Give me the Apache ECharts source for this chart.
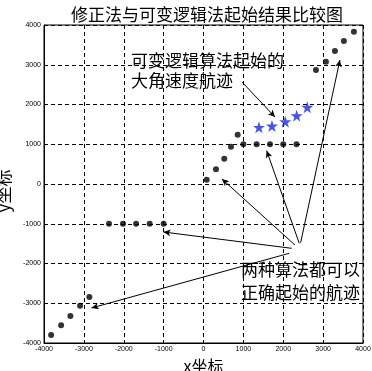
<!DOCTYPE html>
<html>
<head>
<meta charset="utf-8">
<script src="https://cdn.jsdelivr.net/npm/echarts@6/dist/echarts.min.js"></script>
<style>html,body{margin:0;padding:0;background:#fff}#c{width:372px;height:371px}</style>
</head>
<body>
<div id="c"></div>
<script>
// ---- data ----
const titleText = '修正法与可变逻辑法起始结果比较图';
const xName = 'x坐标';
const yName = 'y坐标';
const axisMin = -4000, axisMax = 4000, axisStep = 1000;

// tracks started correctly by both algorithms (black dots)
const diagX = [80, 313, 521, 689, 857];
const diagY = [110, 370, 636, 938, 1240];
const rightLevelX = [1000, 1333, 1667, 2000, 2333];
const rightLevelY = [1000, 1000, 1000, 1000, 1000];
const leftLevelX = [-2370, -2020, -1690, -1350, -1000];
const leftLevelY = [-1000, -1000, -1000, -1000, -1000];
const upperRightX = [2820, 3070, 3296, 3521, 3772];
const upperRightY = [2868, 3077, 3346, 3597, 3831];
const lowerLeftX = [-3822, -3571, -3338, -3095, -2862];
const lowerLeftY = [-3799, -3555, -3321, -3062, -2843];

// large angular-velocity track started by the variable-logic algorithm (blue stars)
const starX = [1391, 1717, 2050, 2336, 2602];
const starY = [1426, 1459, 1567, 1718, 1930];

// annotation texts
const noteTop = ['可变逻辑算法起始的', '大角速度航迹'];
const noteBottom = ['两种算法都可以', '正确起始的航迹'];

// annotation arrows [fromX, fromY, toX, toY] in data units
const arrowTop = [[965, 2566, 1792, 1686]];
const arrowsBottom = [
  [2293, -1535, 464, 126],
  [2401, -1492, 1584, 838],
  [2436, -1477, 3421, 3119],
  [2211, -1618, -1003, -1208],
  [2150, -1743, -2807, -3119]
];

// ---- build ----
function zip(xs, ys) { return xs.map((x, i) => [x, ys[i]]); }
const dots = [].concat(
  zip(diagX, diagY), zip(rightLevelX, rightLevelY), zip(leftLevelX, leftLevelY),
  zip(upperRightX, upperRightY), zip(lowerLeftX, lowerLeftY)
);
const stars = zip(starX, starY);
const arrows = arrowTop.concat(arrowsBottom).map(a => [{coord: [a[0], a[1]]}, {coord: [a[2], a[3]]}]);

const cjk = '"Noto Sans CJK SC", sans-serif';
const tickFont = '"Liberation Sans Narrow", "Liberation Sans", sans-serif';

const gridLine = {show: true, lineStyle: {color: '#000', type: [4, 3], width: 1}};
const tickLabel = {fontFamily: tickFont, fontSize: 7, color: '#000', margin: 3, formatter: v => String(v)};

const chart = echarts.init(document.getElementById('c'), null, {renderer: 'canvas'});
chart.setOption({
  animation: false,
  backgroundColor: '#fff',
  title: {
    text: titleText, left: 66, top: 1,
    textStyle: {fontFamily: cjk, fontSize: 17, fontWeight: 'normal', color: '#000'}
  },
  grid: {left: 44, right: 9, top: 25, bottom: 28, containLabel: false, outerBoundsMode: 'none',
    show: true, borderColor: '#000', borderWidth: 1, backgroundColor: 'transparent'},
  xAxis: {
    type: 'value', min: axisMin, max: axisMax, interval: axisStep,
    name: xName, nameLocation: 'middle', nameGap: 9,
    nameTextStyle: {fontFamily: cjk, fontSize: 16, color: '#000'},
    axisLine: {show: true, onZero: false, lineStyle: {color: '#000', width: 1}},
    axisTick: {show: false},
    axisLabel: tickLabel,
    splitLine: gridLine
  },
  yAxis: {
    type: 'value', min: axisMin, max: axisMax, interval: axisStep,
    name: yName, nameLocation: 'middle', nameGap: 25, nameRotate: 90,
    nameTextStyle: {fontFamily: cjk, fontSize: 17, color: '#000', padding: [0, 14, 0, 0]},
    axisLine: {show: true, onZero: false, lineStyle: {color: '#000', width: 1}},
    axisTick: {show: false},
    axisLabel: tickLabel,
    splitLine: gridLine
  },
  series: [
    {
      type: 'scatter', data: dots, symbol: 'circle', symbolSize: 6,
      itemStyle: {color: '#000'}, silent: true, z: 3
    },
    {
      type: 'scatter', data: stars, symbol: 'path://M50,0 L61.8,36.3 L100,36.3 L69.1,58.8 L80.9,95.1 L50,72.6 L19.1,95.1 L30.9,58.8 L0,36.3 L38.2,36.3 Z',
      symbolSize: 12, itemStyle: {color: '#1a28e6'}, silent: true, z: 3
    },
    {
      type: 'scatter', data: [], silent: true, z: 4,
      markLine: {
        silent: true, animation: false,
        symbol: ['none', 'arrow'], symbolSize: [5, 7],
        label: {show: false},
        lineStyle: {color: '#000', width: 1, type: 'solid'},
        emphasis: {disabled: true},
        data: arrows
      }
    }
  ],
  graphic: [
    {type: 'text', left: 131, top: 51, silent: true,
      style: {text: noteTop.join('\n'), fontFamily: cjk, fontSize: 17, lineHeight: 20, fill: '#000'}},
    {type: 'text', left: 241, top: 258, silent: true,
      style: {text: noteBottom.join('\n'), fontFamily: cjk, fontSize: 17, lineHeight: 23, fill: '#000'}}
  ]
});
</script>
</body>
</html>
